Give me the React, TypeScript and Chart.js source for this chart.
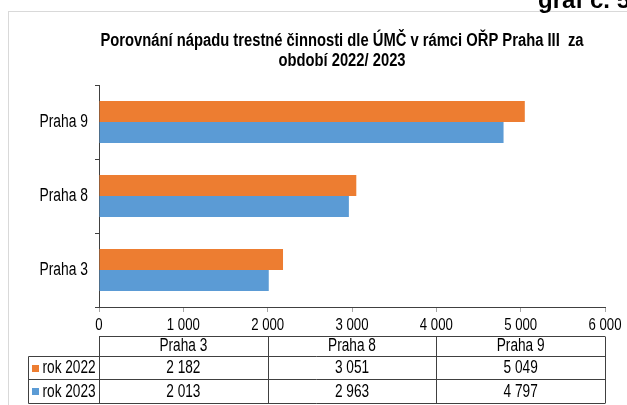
import React, { useEffect, useRef } from "react";
import { Chart, registerables } from "chart.js";

Chart.register(...registerables);

const categories = ["Praha 3", "Praha 8", "Praha 9"];
const seriesNames = ["rok 2022", "rok 2023"];
const values2022 = [2182, 3051, 5049];
const values2023 = [2013, 2963, 4797];
const seriesColors = ["#ED7D31", "#5B9BD5"];
const xMin = 0;
const xMax = 6000;
const xStep = 1000;
const titleLines = [
  "Porovnání nápadu trestné činnosti dle ÚMČ v rámci OŘP Praha III  za",
  "období 2022/ 2023",
];
const cornerLabel = "graf č. 5";

const FAMILY = '"Liberation Sans", Arial, sans-serif';

const fmt = (n: number) => String(n).replace(/\B(?=(\d{3})+(?!\d))/g, " ");

function narrowText(
  ctx: CanvasRenderingContext2D,
  text: string,
  x: number,
  y: number,
  align: CanvasTextAlign,
  size: number,
  ratio: number,
  bold = false,
  baseline: CanvasTextBaseline = "middle"
) {
  ctx.save();
  ctx.translate(x, y);
  ctx.scale(ratio, 1);
  ctx.font = `${bold ? "bold " : ""}${size}px ${FAMILY}`;
  ctx.textAlign = align;
  ctx.textBaseline = baseline;
  ctx.fillText(text, 0, 0);
  ctx.restore();
}

const decorPlugin = {
  id: "decor",
  beforeDraw(chart: any) {
    const ctx = chart.ctx;
    ctx.save();
    ctx.fillStyle = "#ffffff";
    ctx.fillRect(0, 0, chart.width, chart.height);
    ctx.strokeStyle = "#d9d9d9";
    ctx.lineWidth = 1;
    ctx.strokeRect(8.5, 11.5, 700, 500);
    ctx.fillStyle = "#000000";
    ctx.font = `bold 24px ${FAMILY}`;
    ctx.textAlign = "left";
    ctx.textBaseline = "alphabetic";
    ctx.fillText(cornerLabel, 538, 8);
    narrowText(ctx, titleLines[0], 342, 46, "center", 18, 0.82, true, "alphabetic");
    narrowText(ctx, titleLines[1], 342, 66, "center", 18, 0.82, true, "alphabetic");
    ctx.restore();
  },
  afterDraw(chart: any) {
    const ctx = chart.ctx;
    const { left, right } = chart.chartArea;
    ctx.save();
    ctx.fillStyle = "#000000";
    // axis tick labels
    const xs = chart.scales.x;
    xs.ticks.forEach((t: any) => {
      narrowText(ctx, fmt(t.value), xs.getPixelForValue(t.value), 325, "center", 16.5, 0.8);
    });
    const ys = chart.scales.y;
    ys.ticks.forEach((t: any, i: number) => {
      narrowText(ctx, String(ys.getLabelForValue(t.value)), 88, ys.getPixelForTick(i) + 0.5, "right", 18, 0.77);
    });

    // data table
    const colW = (right - left) / categories.length;
    const legendLeft = 28.5;
    const rows = [336.5, 356.5, 379.5, 403.5];
    ctx.strokeStyle = "#404040";
    ctx.lineWidth = 1;
    ctx.beginPath();
    ctx.moveTo(left, rows[0]);
    ctx.lineTo(right, rows[0]);
    for (let i = 1; i < rows.length; i++) {
      ctx.moveTo(legendLeft, rows[i]);
      ctx.lineTo(right, rows[i]);
    }
    ctx.moveTo(legendLeft, rows[1]);
    ctx.lineTo(legendLeft, rows[3]);
    for (let c = 0; c <= categories.length; c++) {
      const x = Math.round(left + c * colW) + 0.5;
      ctx.moveTo(x, rows[0]);
      ctx.lineTo(x, rows[3]);
    }
    ctx.stroke();

    const series = [values2022, values2023];
    categories.forEach((cat, c) => {
      const cx = left + (c + 0.5) * colW;
      narrowText(ctx, cat, cx, (rows[0] + rows[1]) / 2, "center", 17.5, 0.78);
      series.forEach((vals, s) => {
        narrowText(ctx, fmt(vals[c]), cx, (rows[s + 1] + rows[s + 2]) / 2 + 0.5, "center", 17.5, 0.78);
      });
    });
    seriesNames.forEach((name, s) => {
      const cy = (rows[s + 1] + rows[s + 2]) / 2;
      ctx.fillStyle = seriesColors[s];
      ctx.fillRect(32, Math.round(cy - 3.5), 7, 7);
      ctx.fillStyle = "#000000";
      narrowText(ctx, name, 42.5, cy + 0.5, "left", 17.5, 0.78);
    });
    ctx.restore();
  },
};

export default function App() {
  const ref = useRef<HTMLCanvasElement>(null);
  useEffect(() => {
    if (!ref.current) return;
    const chart = new Chart(ref.current, {
      type: "bar",
      data: {
        labels: categories,
        datasets: [
          {
            label: seriesNames[0],
            data: values2022,
            backgroundColor: seriesColors[0],
            borderWidth: 0,
            categoryPercentage: 0.568,
            barPercentage: 1,
          },
          {
            label: seriesNames[1],
            data: values2023,
            backgroundColor: seriesColors[1],
            borderWidth: 0,
            categoryPercentage: 0.568,
            barPercentage: 1,
          },
        ],
      },
      options: {
        indexAxis: "y",
        animation: false,
        responsive: false,
        devicePixelRatio: 1,
        layout: { padding: { left: 0, right: 22, top: 85, bottom: 70 } },
        plugins: {
          legend: { display: false },
          title: { display: false },
          tooltip: { enabled: false },
        },
        scales: {
          x: {
            type: "linear",
            min: xMin,
            max: xMax,
            ticks: { stepSize: xStep, display: false },
            grid: {
              drawOnChartArea: false,
              drawTicks: true,
              tickLength: 5,
              color: "#a6a6a6",
            },
            border: { display: true, color: "#404040" },
            afterFit: (s: any) => {
              s.height = 28;
            },
          },
          y: {
            type: "category",
            reverse: true,
            ticks: { display: false },
            grid: {
              drawOnChartArea: false,
              drawTicks: true,
              tickLength: 4,
              offset: true,
              color: "#404040",
            },
            border: { display: true, color: "#404040" },
            afterFit: (s: any) => {
              s.width = 99;
            },
          },
        },
      },
      plugins: [decorPlugin],
    } as any);
    return () => chart.destroy();
  }, []);
  return (
    <div style={{ position: "fixed", left: 0, top: 0, width: 627, height: 405 }}>
      <canvas ref={ref} width={627} height={405} style={{ display: "block" }} />
    </div>
  );
}
